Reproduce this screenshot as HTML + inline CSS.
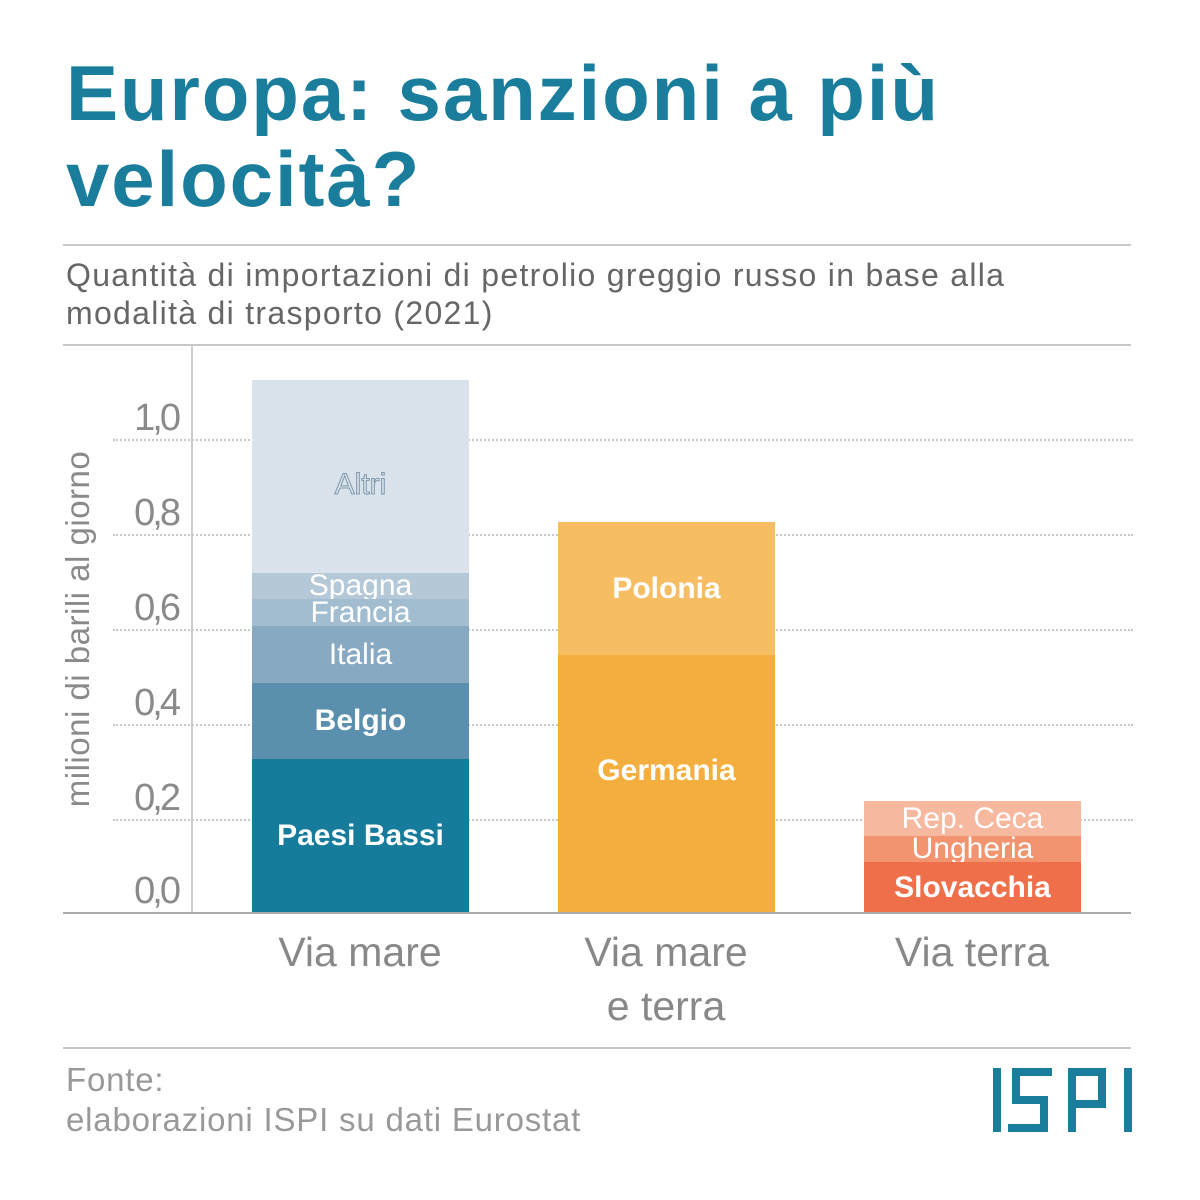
<!DOCTYPE html>
<html><head><meta charset="utf-8"><style>
body{margin:0;width:1200px;height:1200px;background:#fff;font-family:"Liberation Sans",sans-serif;position:relative;overflow:hidden}
.a{position:absolute}
.t{left:66px;top:50px;font-size:78px;font-weight:bold;color:#1a7d9c;line-height:86px;letter-spacing:1.9px}
.hr{left:63px;width:1068px;height:2px;background:#c8c8c8}
.sub{left:66px;top:256px;font-size:32px;color:#666;line-height:38px;letter-spacing:1.3px}
.grid{left:113px;width:1020px;border-top:2px dotted #c9c9c9;height:0}
.yl{font-size:38px;color:#8a8a8a;width:70px;text-align:right;left:108px;letter-spacing:-3px}
.seg{position:absolute;color:#fff;font-weight:bold;font-size:30px;display:flex;align-items:center;justify-content:center}
.xl{font-size:41px;color:#888;text-align:center;width:300px;line-height:54px}
</style></head><body>
<div class="a t">Europa: sanzioni a più<br>velocità?</div>
<div class="a hr" style="top:244px"></div>
<div class="a sub">Quantità di importazioni di petrolio greggio russo in base alla<br>modalità di trasporto (2021)</div>
<div class="a hr" style="top:344px"></div>
<div class="a" style="left:191px;top:345px;width:2px;height:568px;background:#ccc"></div>
<div class="a grid" style="top:439px"></div>
<div class="a grid" style="top:534px"></div>
<div class="a grid" style="top:629px"></div>
<div class="a grid" style="top:724px"></div>
<div class="a grid" style="top:819px"></div>
<div class="a yl" style="top:397px">1,0</div>
<div class="a yl" style="top:492px">0,8</div>
<div class="a yl" style="top:587px">0,6</div>
<div class="a yl" style="top:682px">0,4</div>
<div class="a yl" style="top:777px">0,2</div>
<div class="a yl" style="top:870px">0,0</div>
<div class="a" style="left:-122px;top:610px;width:400px;transform:rotate(-90deg);font-size:33px;color:#8a8a8a;text-align:center;white-space:nowrap;letter-spacing:0.5px">milioni di barili al giorno</div>

<div class="seg" style="left:252px;width:217px;top:380px;background:#dae3ec;font-weight:normal;color:#dae3ec;-webkit-text-stroke:1px #7f97ab;align-items:flex-start;height:193px"><span style="margin-top:88px">Altri</span></div>
<div class="seg" style="left:252px;width:217px;top:573px;height:26px;background:#b4c8d8;font-weight:normal">Spagna</div>
<div class="seg" style="left:252px;width:217px;top:599px;height:27px;background:#a3bdd0;font-weight:normal">Francia</div>
<div class="seg" style="left:252px;width:217px;top:626px;height:57px;background:#88a9c2;font-weight:normal">Italia</div>
<div class="seg" style="left:252px;width:217px;top:683px;height:76px;background:#5a8fad">Belgio</div>
<div class="seg" style="left:252px;width:217px;top:759px;height:154px;background:#177b9b">Paesi Bassi</div>

<div class="seg" style="left:558px;width:217px;top:522px;height:133px;background:#f6bd62">Polonia</div>
<div class="seg" style="left:558px;width:217px;top:655px;height:232px;background:#f4ae3d">Germania</div>
<div class="a" style="left:558px;width:217px;top:886px;height:27px;background:#f4ae3d"></div>

<div class="seg" style="left:864px;width:217px;top:801px;height:35px;background:#f7b8a0;font-weight:normal">Rep. Ceca</div>
<div class="seg" style="left:864px;width:217px;top:836px;height:26px;background:#f2946f;font-weight:normal">Ungheria</div>
<div class="seg" style="left:864px;width:217px;top:862px;height:51px;background:#ee6f4a">Slovacchia</div>

<div class="a" style="left:63px;top:912px;width:1068px;height:2px;background:#aaa"></div>
<div class="a xl" style="left:210px;top:925px">Via mare</div>
<div class="a xl" style="left:516px;top:925px">Via mare<br>e terra</div>
<div class="a xl" style="left:822px;top:925px">Via terra</div>
<div class="a hr" style="top:1047px"></div>
<div class="a" style="left:66px;top:1060px;font-size:33px;color:#999;line-height:40px;letter-spacing:0.8px">Fonte:<br>elaborazioni ISPI su dati Eurostat</div>
<svg class="a" style="left:990px;top:1064px" width="146" height="72" viewBox="0 0 146 72">
<g fill="none" stroke="#1a7d9c" stroke-width="8">
<path d="M7 4V68"/>
<path d="M62 8H26V36H54V64H18"/>
<path d="M82 68V8H112V40H86"/>
<path d="M138 4V68"/>
</g></svg>
</body></html>
